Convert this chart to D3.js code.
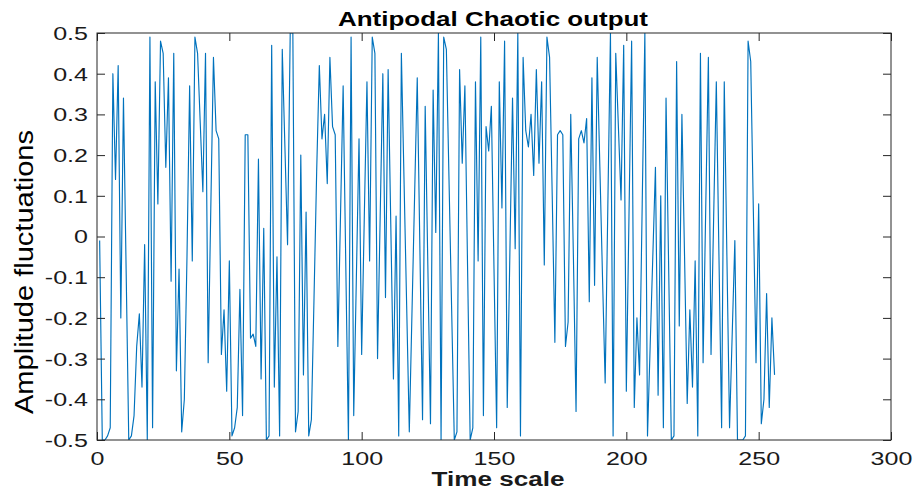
<!DOCTYPE html>
<html><head><meta charset="utf-8">
<script src="https://cdn.jsdelivr.net/npm/d3@7"></script>
<style>body{margin:0;background:#fff}svg{display:block}</style>
</head><body>
<svg id="c" width="913" height="491"></svg>
<script>
const titleText = "Antipodal Chaotic output";
const xLabel = "Time scale";
const yLabel = "Amplitude fluctuations";
const xTicks = [0, 50, 100, 150, 200, 250, 300];
const yTicks = [-0.5, -0.4, -0.3, -0.2, -0.1, 0, 0.1, 0.2, 0.3, 0.4, 0.5];
const amplitude = [
 -0.01,-0.50,-0.50,-0.49,-0.47, 0.40, 0.14, 0.42,-0.20, 0.34,
 -0.08,-0.50,-0.49,-0.44,-0.27,-0.19,-0.37,-0.02,-0.50, 0.49,
 -0.47, 0.38, 0.08, 0.48, 0.45, 0.17, 0.39,-0.11, 0.45,-0.33,
 -0.08,-0.48,-0.40,-0.05, 0.37,-0.06, 0.49, 0.45, 0.28, 0.11,
  0.45,-0.31, 0.07, 0.44, 0.26, 0.24,-0.29,-0.18,-0.38,-0.06,
 -0.49,-0.47,-0.42,-0.13,-0.44, 0.25, 0.25,-0.25,-0.24,-0.27,
  0.19,-0.35, 0.02,-0.50,-0.49, 0.47,-0.37,-0.05,-0.49, 0.46,
  0.22,-0.02, 0.50, 0.50,-0.48,-0.43, 0.20,-0.34, 0.06,-0.49,
 -0.45,-0.15, 0.16, 0.42, 0.24, 0.30, 0.13, 0.44, 0.27, 0.25,
 -0.27, 0.05, 0.37,-0.07,-0.50, 0.49,-0.44,-0.10, 0.24,-0.29,
  0.05, 0.38,-0.06, 0.49, 0.45,-0.30, 0.05, 0.40,-0.15, 0.41,
  0.03,-0.35, 0.05,-0.49, 0.45, 0.14,-0.17,-0.48,-0.19, 0.10,
  0.39,-0.03,-0.45, 0.32,-0.07,-0.46, 0.36, 0.01, 0.50,-0.50,
  0.49, 0.46, 0.14,-0.18,-0.50,-0.48, 0.41, 0.18, 0.37,-0.07,
 -0.50,-0.47, 0.38,-0.06, 0.49,-0.44, 0.27, 0.21, 0.32,-0.08,
 -0.47, 0.38, 0.07, 0.48,-0.42,-0.04, 0.34,-0.03, 0.50,-0.49,
  0.44, 0.26, 0.22, 0.30, 0.15, 0.41, 0.18, 0.38,-0.07, 0.49,
  0.44, 0.10,-0.26, 0.25, 0.26, 0.25,-0.27,-0.21, 0.30,-0.05,
 -0.43, 0.24, 0.26, 0.23, 0.29,-0.16, 0.39,-0.12, 0.44, 0.17,
 -0.10,-0.36, 0.07, 0.50,-0.49, 0.45, 0.27, 0.09, 0.47,-0.38,
  0.05, 0.48,-0.42,-0.20,-0.34, 0.08, 0.50,-0.49,-0.27,-0.05,
  0.17,-0.39, 0.10,-0.47, 0.34,-0.08,-0.50,-0.49, 0.43,-0.22,
  0.30,-0.05,-0.41,-0.18,-0.37,-0.06,-0.49, 0.45,-0.31, 0.07,
  0.44,-0.29, 0.05, 0.38,-0.05,-0.47, 0.38,-0.05,-0.47,-0.24,
 -0.01,-0.50,-0.50,-0.50,-0.49, 0.48, 0.43, 0.06,-0.31, 0.08,
 -0.46,-0.40,-0.14,-0.42,-0.20,-0.34
];
const timeIndex = amplitude.map((_, i) => i + 1);

const svg = d3.select("#c");
const L = 97, R = 891, T = 33, B = 440;
const x = d3.scaleLinear().domain([0, 300]).range([L, R]);
const y = d3.scaleLinear().domain([-0.5, 0.5]).range([B, T]);
const axisColor = "#262626";
const font = "'Liberation Sans', Arial, Helvetica, sans-serif";
const tl = 8;
const sx = 1.32;

svg.append("clipPath").attr("id", "clip").append("rect")
  .attr("x", L).attr("y", T).attr("width", R - L).attr("height", B - T);

svg.append("path")
  .datum(timeIndex.map((t, i) => [t, amplitude[i]]))
  .attr("clip-path", "url(#clip)")
  .attr("fill", "none").attr("stroke", "#0072BD").attr("stroke-width", 1.15)
  .attr("stroke-linejoin", "round")
  .attr("d", d3.line().x(d => x(d[0])).y(d => y(d[1])));

function styleAxis(g) {
  g.select(".domain").remove();
  g.selectAll(".tick line").attr("stroke", axisColor).attr("stroke-width", 1);
  g.selectAll(".tick text").attr("fill", "#1a1a1a").style("font-family", font).style("font-size", "19px");
}
const fmt = d => String(Math.round(d * 10) / 10);

const gx = svg.append("g").attr("transform", `translate(0,${B})`)
  .call(d3.axisBottom(x).tickValues(xTicks).tickSize(-tl).tickFormat(d3.format("d")))
  .call(styleAxis);
gx.selectAll(".tick text").attr("y", 0).attr("dy", 0)
  .attr("transform", `translate(0,25) scale(${sx},1)`);

svg.append("g").attr("transform", `translate(0,${T})`)
  .call(d3.axisTop(x).tickValues(xTicks).tickSize(-tl).tickFormat(""))
  .call(styleAxis);

const gy = svg.append("g").attr("transform", `translate(${L},0)`)
  .call(d3.axisLeft(y).tickValues(yTicks).tickSize(-tl).tickFormat(fmt))
  .call(styleAxis);
gy.selectAll(".tick text").attr("x", 0).attr("dy", "0.34em")
  .attr("transform", `translate(-9,0) scale(${sx},1)`);

svg.append("g").attr("transform", `translate(${R},0)`)
  .call(d3.axisRight(y).tickValues(yTicks).tickSize(-tl).tickFormat(""))
  .call(styleAxis);

svg.append("rect").attr("x", L).attr("y", T).attr("width", R - L).attr("height", B - T)
  .attr("fill", "none").attr("stroke", axisColor).attr("stroke-width", 1);

svg.append("text").attr("x", 493).attr("y", 26).attr("text-anchor", "middle")
  .attr("textLength", 310).attr("lengthAdjust", "spacingAndGlyphs")
  .style("font-family", font).style("font-size", "21px").style("font-weight", "bold")
  .attr("fill", "#000").text(titleText);
svg.append("text").attr("x", 498).attr("y", 486).attr("text-anchor", "middle")
  .attr("textLength", 133).attr("lengthAdjust", "spacingAndGlyphs")
  .style("font-family", font).style("font-size", "20px").style("font-weight", "bold")
  .attr("fill", "#1a1a1a").text(xLabel);
svg.append("text").attr("transform", `translate(33,272) rotate(-90)`).attr("text-anchor", "middle")
  .attr("textLength", 284).attr("lengthAdjust", "spacingAndGlyphs")
  .style("font-family", font).style("font-size", "25px")
  .attr("fill", "#000").text(yLabel);
</script>
</body></html>
